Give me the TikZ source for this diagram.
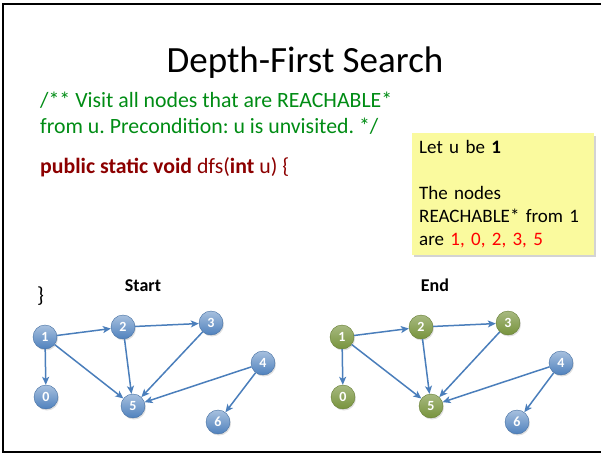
\documentclass[tikz,border=0pt]{standalone}
\usepackage{fontspec}
\setmainfont{Carlito}
\usepackage{xcolor}
\usetikzlibrary{arrows.meta, shadows}
\frenchspacing

\definecolor{nodeblue}{RGB}{79,129,189}
\definecolor{nodegreen}{RGB}{119,147,60}
\definecolor{edgeblue}{RGB}{74,126,187}
\definecolor{cmtgreen}{RGB}{0,140,20}
\definecolor{keyred}{RGB}{140,0,0}
\definecolor{notey}{RGB}{250,250,158}

\begin{document}
\begin{tikzpicture}[x=1pt, y=-1pt,
  vtx/.style={circle, minimum size=24pt, inner sep=0pt, font=\fontsize{14}{14}\selectfont\bfseries, text=white, draw=nodeblue!85!black, top color=nodeblue!50!white, bottom color=nodeblue, drop shadow={opacity=0.25, shadow xshift=1pt, shadow yshift=-1.5pt}},
  done/.style={vtx, draw=nodegreen!85!black, top color=nodegreen!65!white, bottom color=nodegreen},
  arrow/.style={-{Stealth[length=8pt, width=7pt, inset=2pt]}, line width=1.5pt, draw=edgeblue},
  comment/.style={inner sep=0pt, anchor=base west, text=cmtgreen, font=\fontsize{21.8}{26}\selectfont},
  code/.style={inner sep=0pt, anchor=base west, text=keyred, font=\fontsize{21.8}{26}\selectfont},
  caption/.style={inner sep=0pt, anchor=base, font=\fontsize{18}{22}\selectfont\bfseries},
  note/.style={anchor=north west, fill=notey, text width=168pt, inner xsep=7pt, inner ysep=7pt, align=left, font=\fontsize{19}{23}\selectfont, drop shadow={opacity=0.35, shadow xshift=2pt, shadow yshift=-2.5pt}}
]
\useasboundingbox (0,0) rectangle (601,453);
\draw[line width=2pt] (603,4) -- (3,4) -- (3,451.5) -- (603,451.5);

\node[inner sep=0pt, anchor=base, font=\fontsize{37}{44}\selectfont] (title) at (305,72) {Depth-First Search};
\node[comment] (cmt1) at (40,107) {/** Visit all nodes that are REACHABLE*};
\node[comment] (cmt2) at (40,133) {from u. Precondition: u is unvisited. */};
\node[code] (sig) at (40,173) {\textbf{public static void} dfs(\textbf{int} u) \{};
\node[code, text=black] (close) at (37,302) {\}};

\node[note] (note) at (412,133) {Let u be \textbf{1}\\[23pt]The nodes\\REACHABLE* from 1\\are \textcolor{red}{1, 0, 2, 3, 5}};

\node[caption] (start) at (143,291) {Start};
\node[caption] (finish) at (435,291) {End};

% start graph
\node[vtx] (s1) at (45,337) {1};
\node[vtx] (s2) at (123,327) {2};
\node[vtx] (s3) at (211,323) {3};
\node[vtx] (s4) at (263,363) {4};
\node[vtx] (s0) at (46,397) {0};
\node[vtx] (s5) at (133,406) {5};
\node[vtx] (s6) at (218,422) {6};

% end graph
\node[done] (e1) at (342,337) {1};
\node[done] (e2) at (421,327) {2};
\node[done] (e3) at (508,323) {3};
\node[vtx] (e4) at (561,363) {4};
\node[done] (e0) at (343,397) {0};
\node[done] (e5) at (431,406) {5};
\node[vtx] (e6) at (517,422) {6};

\foreach \g in {s,e}
  \foreach \a/\b in {1/2, 2/3, 1/0, 1/5, 2/5, 3/5, 4/5, 4/6}
    \draw[arrow] (\g\a) -- (\g\b);
\end{tikzpicture}
\end{document}
